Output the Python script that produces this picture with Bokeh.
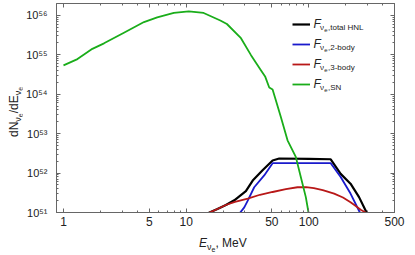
import numpy as np
from bokeh.plotting import figure
from bokeh.layouts import row, column
from bokeh.models import (FixedTicker, CustomJSTickFormatter, LogAxis, Label,
                          Legend, LegendItem, Range1d, Div)
from bokeh.embed import file_html
from bokeh.resources import INLINE

# ---------------- data (energies in MeV, log10 of dN/dE) ----------------
E_sn = [1.0, 1.30, 1.72, 2.14, 3.11, 4.53, 5.81, 7.94, 10.5, 13.9, 19.0, 21.5,
        28.0, 33.8, 40.7, 44.2, 47.6, 50.7, 52.9, 59.2, 67.1, 78.4, 86.1, 94.6,
        99.5, 102.0]
logF_sn = [54.73, 54.89, 55.15, 55.29, 55.56, 55.83, 55.95, 56.06, 56.10, 56.06,
           55.87, 55.78, 55.42, 54.99, 54.61, 54.44, 54.17, 54.12, 53.93, 53.42,
           52.83, 52.41, 51.90, 51.39, 51.00, 50.85]

E_3body = [14.0, 15.5, 18.0, 21.1, 25.0, 31.8, 40.0, 50.7, 65.0, 80.9, 95.0,
           110.0, 130.0, 161.0, 190.0, 219.0, 240.0, 265.0, 291.0, 300.0]
logF_3body = [50.95, 51.00, 51.09, 51.19, 51.27, 51.35, 51.45, 51.52, 51.59, 51.64,
              51.645, 51.62, 51.57, 51.48, 51.38, 51.26, 51.17, 51.07, 51.00, 50.97]

E_2body = [27.0, 27.6, 29.8, 31.8, 35.9, 43.3, 50.7, 100.0, 151.0, 182.0, 219.0,
           261.0, 264.0]
logF_2body = [50.9, 51.00, 51.13, 51.30, 51.64, 51.94, 52.25, 52.25, 52.25, 51.90,
              51.48, 51.00, 50.95]

E_total = [14.0, 15.5, 18.0, 21.1, 24.7, 30.7, 34.9, 42.0, 50.7, 57.4, 100.0,
           151.0, 182.0, 219.0, 257.0, 296.0, 300.0]
logF_total = [50.95, 51.00, 51.09, 51.19, 51.31, 51.54, 51.81, 52.07, 52.32, 52.37,
              52.36, 52.35, 51.98, 51.73, 51.39, 51.00, 50.95]

x_ticks = [1, 5, 10, 50, 100, 500]
x_tick_labels = ["1", "5", "10", "50", "100", "500"]
x_minor = [2, 3, 4, 6, 7, 8, 9, 20, 30, 40, 60, 70, 80, 90, 200, 300, 400]
y_ticks = [1e51, 1e52, 1e53, 1e54, 1e55, 1e56]
y_tick_labels = ["10⁵¹", "10⁵²", "10⁵³", "10⁵⁴", "10⁵⁵", "10⁵⁶"]
y_minor = [k * 10.0 ** n for n in range(51, 57) for k in range(2, 10)]

series_labels = [",total HNL", ",2-body", ",3-body", ",SN"]
colors = ["#000000", "#1a1acc", "#b81818", "#1aad1a"]

FONT = "Liberation Sans"
AX = "#666666"
TXT = "#222222"

YDIV_W = 22
p = figure(width=415 - YDIV_W, height=235, x_axis_type="log", y_axis_type="log",
           x_range=Range1d(0.877, 500), y_range=Range1d(1e51, 10 ** 56.30),
           output_backend="svg", toolbar_location=None,
           min_border_left=55 - YDIV_W, min_border_right=21, min_border_top=3,
           min_border_bottom=23)
p.xgrid.visible = False
p.ygrid.visible = False
p.outline_line_color = AX
p.background_fill_color = "white"
p.border_fill_color = "white"

fmt_code = """
let best = 0; let d = Infinity;
for (let i = 0; i < vals.length; i++) {
  const dd = Math.abs(Math.log10(vals[i]) - Math.log10(tick));
  if (dd < d) { d = dd; best = i; }
}
return labels[best];
"""
xt = FixedTicker(ticks=x_ticks, minor_ticks=x_minor)
yt = FixedTicker(ticks=y_ticks, minor_ticks=y_minor)

xa = p.xaxis[0]
xa.ticker = xt
xa.formatter = CustomJSTickFormatter(args=dict(vals=x_ticks, labels=x_tick_labels), code=fmt_code)
ya = p.yaxis[0]
ya.ticker = yt
ya.formatter = CustomJSTickFormatter(args=dict(vals=y_ticks, labels=y_tick_labels), code=fmt_code)

for ax in (xa, ya):
    ax.major_tick_in = 4
    ax.major_tick_out = 0
    ax.minor_tick_in = 2
    ax.minor_tick_out = 0
    ax.axis_line_color = AX
    ax.major_tick_line_color = AX
    ax.minor_tick_line_color = AX
    ax.major_label_text_font = FONT
    ax.major_label_text_color = TXT
xa.major_label_text_font_size = "12px"
xa.major_label_standoff = 4
ya.major_label_text_font_size = "11px"
ya.major_label_standoff = 9

for loc, tk in (("above", xt), ("right", yt)):
    a = LogAxis(ticker=tk, formatter=CustomJSTickFormatter(code='return "";'),
                major_label_standoff=0, major_label_text_font_size="8px",
                major_tick_in=4, major_tick_out=0, minor_tick_in=2, minor_tick_out=0,
                axis_line_color=AX, major_tick_line_color=AX, minor_tick_line_color=AX)
    p.add_layout(a, loc)

def pw(v):
    return [10.0 ** e for e in v]

r_tot = p.line(E_total, pw(logF_total), line_color=colors[0], line_width=2.2)
r_2b = p.line(E_2body, pw(logF_2body), line_color=colors[1], line_width=1.8)
r_3b = p.line(E_3body, pw(logF_3body), line_color=colors[2], line_width=1.8)
r_sn = p.line(E_sn, pw(logF_sn), line_color=colors[3], line_width=1.8)

legend = Legend(items=[LegendItem(label=" ", renderers=[r]) for r in (r_tot, r_2b, r_3b, r_sn)],
                location=(235, 117), orientation="vertical",
                glyph_width=18, glyph_height=20, label_height=20, label_width=2,
                spacing=0, padding=1, margin=0, label_standoff=2,
                label_text_font_size="8px", border_line_alpha=0,
                background_fill_alpha=0)
p.add_layout(legend)


def lab(x, y, text, size, italic=False):
    p.add_layout(Label(x=x - YDIV_W, y=y, x_units="canvas", y_units="canvas", text=text,
                       text_font=FONT, text_font_size=size,
                       text_font_style="italic" if italic else "normal",
                       text_color=TXT, text_baseline="middle", text_align="left"))


# legend texts (page pixels, y downward)
row_y = [24, 44, 64, 84]
for yy, t in zip(row_y, series_labels):
    lab(313, yy - 1, "F", "12px", italic=True)
    lab(319.5, yy + 3, "ν", "8px")
    lab(323.8, yy + 5, "e", "6px")
    lab(327.5, yy + 3, t, "8px")

# axis titles as HTML text (sub-subscripts)
base = "font-family:'Liberation Sans',Arial,sans-serif;color:#222222;"
sub1 = '<span style="font-size:9px;vertical-align:-3px;">ν<span style="font-size:7px;vertical-align:-2px;">e</span></span>'
x_html = ('<div style="position:relative;width:%dpx;height:20px;%s">'
          '<span style="position:absolute;left:%dpx;top:1px;font-size:12px;line-height:14px;white-space:nowrap;">'
          '<i>E</i>%s, MeV</span></div>') % (415 - YDIV_W, base, 199 - YDIV_W, sub1)
y_html = ('<div style="position:relative;width:%dpx;height:255px;%s">'
          '<span style="position:absolute;left:7px;top:137px;transform:rotate(-90deg);transform-origin:0 0;'
          'font-size:12px;line-height:14px;white-space:nowrap;">dN%s/dE%s</span></div>') % (YDIV_W, base, sub1, sub1)

xdiv = Div(text=x_html, width=415 - YDIV_W, height=20, margin=0)
ydiv = Div(text=y_html, width=YDIV_W, height=255, margin=0)

layout = row(ydiv, column(p, xdiv, spacing=0), spacing=0)

open("out.html", "w").write(file_html(layout, INLINE))
